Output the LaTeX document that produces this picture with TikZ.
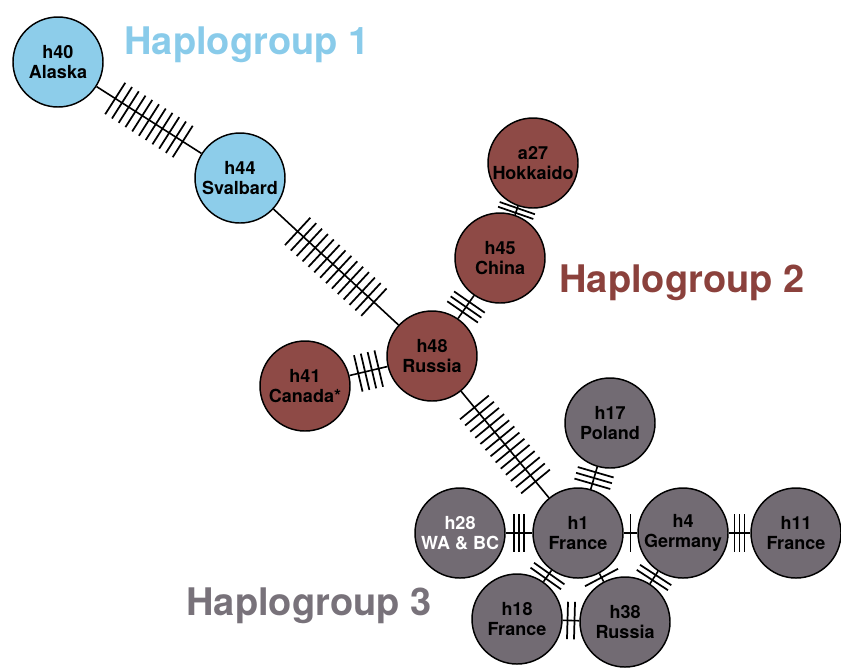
\documentclass[tikz,border=0pt]{standalone}
\usepackage{fontspec}
\setmainfont{TeX Gyre Heros}
\usetikzlibrary{decorations.markings}

\definecolor{hblue}{HTML}{8DCDEA}
\definecolor{hred}{HTML}{8E4A46}
\definecolor{hgrey}{HTML}{726B73}
\definecolor{tblue}{HTML}{89CBEA}
\definecolor{tred}{HTML}{8B413C}
\definecolor{tgrey}{HTML}{78727A}

\tikzset{
 hap/.style={circle, draw, line width=1.1pt, minimum size=67.5pt, inner sep=0pt,
   align=center, font=\bfseries\fontsize{13.5}{15.5}\selectfont},
 title/.style={font=\bfseries\fontsize{28.5}{30}\selectfont},
 mut/.style 2 args={line width=1.2pt, postaction={decorate, decoration={markings,
   mark=at position 0.5 with {\foreach \k in {1,...,#1}
     {\draw[line width=1.3pt] ({(\k-(#1+1)/2)*#2*0.75pt},-14pt) -- ++(0,28pt);}}}}}
}

\begin{document}
\begin{tikzpicture}[x=0.75pt,y=-0.75pt]
 \useasboundingbox (0,0) rectangle (841,669);
 % haplogroup 1
 \node[hap,fill=hblue] (h40) at (58,62) {h40\\Alaska};
 \node[hap,fill=hblue] (h44) at (240,178) {h44\\Svalbard};
 % haplogroup 2
 \node[hap,fill=hred] (a27) at (533,163) {a27\\Hokkaido};
 \node[hap,fill=hred] (h45) at (500,258) {h45\\China};
 \node[hap,fill=hred] (h48) at (432,356) {h48\\Russia};
 \node[hap,fill=hred] (h41) at (305,386) {h41\\Canada*};
 % haplogroup 3
 \node[hap,fill=hgrey] (h17) at (610,423) {h17\\Poland};
 \node[hap,fill=hgrey,text=white] (h28) at (460,533) {h28\\WA \& BC};
 \node[hap,fill=hgrey] (h1) at (578,533) {h1\\France};
 \node[hap,fill=hgrey] (h4) at (683,533) {h4\\Germany};
 \node[hap,fill=hgrey] (h11) at (796,533) {h11\\France};
 \node[hap,fill=hgrey] (h18) at (517,619) {h18\\France};
 \node[hap,fill=hgrey] (h38) at (625,622) {h38\\Russia};

 \node[title,text=tblue] (hg1) at (247,45) {Haplogroup 1};
 \node[title,text=tred] (hg2) at (682,283) {Haplogroup 2};
 \node[title,text=tgrey] (hg3) at (309,606) {Haplogroup 3};

 % mutational steps
 \draw[mut={11}{8}] (h40) -- (h44);
 \draw[mut={14}{8}] (h44) -- (h48);
 \draw[mut={2}{5}] (a27) -- (h45);
 \draw[mut={3}{6}] (h45) -- (h48);
 \draw[mut={4}{7}] (h41) -- (h48);
 \draw[mut={13}{8}] (h48) -- (h1);
 \draw[mut={3}{6}] (h17) -- (h1);
 \draw[mut={3}{5}] (h28) -- (h1);
 \draw[mut={1}{5}] (h1) -- (h4);
 \draw[mut={3}{5}] (h4) -- (h11);
 \draw[mut={2}{6}] (h1) -- (h18);
 \draw[mut={1}{5}] (h1) -- (h38);
 \draw[mut={2}{6}] (h4) -- (h38);
 \draw[mut={2}{7}] (h18) -- (h38);
\end{tikzpicture}
\end{document}
